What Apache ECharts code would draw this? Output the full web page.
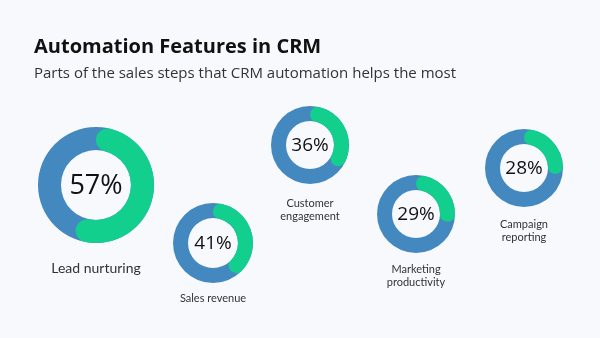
<!DOCTYPE html>
<html><head><meta charset="utf-8">
<script src="https://cdn.jsdelivr.net/npm/echarts@6/dist/echarts.min.js"></script>
<style>html,body{margin:0;padding:0;background:#f7f9fd;}#c{width:600px;height:338px;}</style>
</head><body><div id="c"></div>
<script>
var categories = ['Lead nurturing', 'Sales revenue', 'Customer\nengagement', 'Marketing\nproductivity', 'Campaign\nreporting'];
var values = [57, 41, 36, 29, 28];
var titleText = 'Automation Features in CRM';
var subtitleText = 'Parts of the sales steps that CRM automation helps the most';

// layout (positions / sizes)
var layout = [
  {cx: 96, cy: 185, r0: 35, r: 58, pct: 27, lab: 14, labY: 268},
  {cx: 213, cy: 243, r0: 25, r: 40, pct: 19, lab: 11, labY: 298},
  {cx: 310, cy: 145, r0: 24, r: 39, pct: 19, lab: 11, labY: 210},
  {cx: 416, cy: 214, r0: 24, r: 39, pct: 19, lab: 11, labY: 276},
  {cx: 524, cy: 168, r0: 24, r: 39, pct: 19, lab: 11, labY: 231}
];
var BLUE = '#4389c0', GREEN = '#13cf8d';
var FONT = '"Open Sans", "Noto Sans", sans-serif';
var LFONT = 'Lato, "Open Sans", sans-serif';

var series = [], graphic = [];
values.forEach(function (v, i) {
  var L = layout[i];
  series.push({
    type: 'pie', center: [L.cx, L.cy], radius: [L.r0, L.r], silent: true,
    label: {show: false}, labelLine: {show: false},
    data: [{value: 100, name: categories[i], itemStyle: {color: BLUE}}]
  });
  series.push({
    type: 'pie', center: [L.cx, L.cy], radius: [L.r0, L.r], silent: true,
    startAngle: 90, clockwise: true,
    label: {show: false}, labelLine: {show: false},
    data: [
      {value: v, name: categories[i], itemStyle: {color: GREEN, borderRadius: (L.r - L.r0) / 2}},
      {value: 100 - v, name: 'rest', itemStyle: {color: 'rgba(0,0,0,0)'}}
    ]
  });
  graphic.push({type: 'text', x: L.cx, y: L.cy + 1, style: {
    text: v + '%', font: '400 ' + L.pct + 'px ' + FONT, fill: '#111',
    textAlign: 'center', textVerticalAlign: 'middle'}});
  graphic.push({type: 'text', x: L.cx, y: L.labY, style: {
    text: categories[i], font: '400 ' + L.lab + 'px ' + LFONT, fill: '#333',
    textAlign: 'center', textVerticalAlign: 'middle', lineHeight: L.lab + 2}});
});
graphic.push({type: 'text', x: 34, y: 47, style: {text: titleText, font: '700 20px ' + FONT, fill: '#111', textVerticalAlign: 'middle'}});
graphic.push({type: 'text', x: 34, y: 74, style: {text: subtitleText, font: '400 15px ' + FONT, fill: '#333', textVerticalAlign: 'middle'}});

var chart = echarts.init(document.getElementById('c'));
chart.setOption({
  backgroundColor: '#f7f9fd',
  animation: false,
  series: series, graphic: graphic
});
</script></body></html>
